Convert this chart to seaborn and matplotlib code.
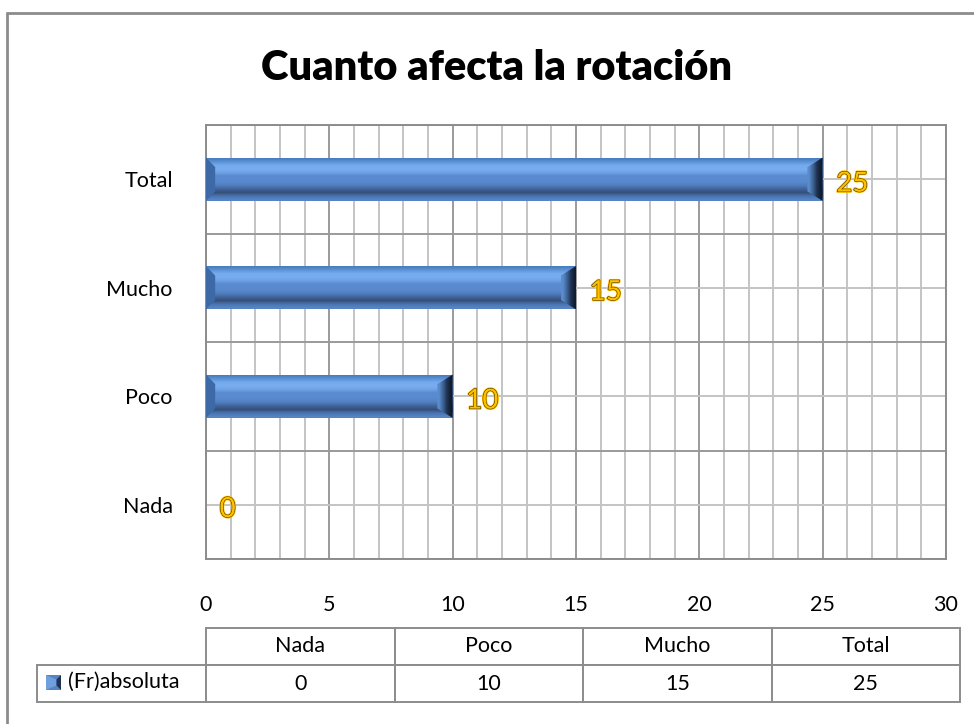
import numpy as np
import pandas as pd
import matplotlib
matplotlib.use('Agg')
import matplotlib.pyplot as plt
import matplotlib.patheffects as pe
from matplotlib.patches import Polygon
from matplotlib.lines import Line2D
import seaborn as sns

# data
categories = ['Nada', 'Poco', 'Mucho', 'Total']
values = [0, 10, 15, 25]
series_name = '(Fr)absoluta'
title = 'Cuanto afecta la rotación'

df = pd.DataFrame({'cat': categories, 'val': values})

sns.set_style('white')
plt.rcParams['font.family'] = ['Lato', 'DejaVu Sans']
plt.rcParams['text.color'] = 'black'

fig = plt.figure(figsize=(9.74, 7.24), dpi=100)
W, H = 974, 724
ax = fig.add_axes([206 / W, 1 - 559 / H, 740 / W, 434 / H])

sns.barplot(data=df, x='val', y='cat', order=categories[::-1], orient='h',
            color='#4F81BD', width=0.4, linewidth=0, ax=ax, zorder=3)

ax.set_xlim(0, 30)
ax.set_ylim(3.5, -0.5)
ax.set_xticks(np.arange(0, 31, 5))
ax.set_xticks(np.arange(0, 31, 1), minor=True)
ax.set_yticks(np.arange(-0.5, 4, 1), minor=True)
ax.grid(True, which='minor', color='#c4c4c4', lw=1.4, zorder=0)
ax.grid(True, which='major', color='#c4c4c4', lw=1.4, zorder=0)
ax.xaxis.grid(True, which='major', color='#9a9a9a', lw=1.4, zorder=0)
ax.yaxis.grid(True, which='minor', color='#9a9a9a', lw=1.4, zorder=0)
ax.set_axisbelow(True)
ax.tick_params(axis='both', which='both', length=0, labelsize=15.5, colors='black')
ax.tick_params(axis='x', pad=26)
ax.tick_params(axis='y', pad=24)
ax.set_xlabel('')
ax.set_ylabel('')
for s in ax.spines.values():
    s.set_color('#8c8c8c')
    s.set_linewidth(1.4)

# beveled look on every bar
grad_colors = ['#4a7cc0', '#5e95d8', '#74aaee', '#78adef', '#6fa3e6',
               '#5b8cd2', '#5a8ad0', '#5888cc', '#4f7cbc', '#3f6398',
               '#364f78', '#4873b0', '#5583c4']
grad = np.array([matplotlib.colors.to_rgb(c) for c in grad_colors])[:, None, :]
hgrad = np.array([matplotlib.colors.to_rgb(c) for c in ['#5a8ccc', '#3e6495', '#1f3352', '#101c2e']])[None, :, :]
bev = 0.62
for p in list(ax.patches):
    x0, y0 = p.get_x(), p.get_y()
    w, h = p.get_width(), p.get_height()
    if w <= 0:
        continue
    im = ax.imshow(grad, extent=(x0, x0 + w, y0 + h, y0), aspect='auto',
                   interpolation='bilinear', zorder=3.5)
    im.set_clip_path(p)
    ih = h * 0.22
    left = Polygon([[x0, y0], [x0 + bev * 0.6, y0 + ih], [x0 + bev * 0.6, y0 + h - ih], [x0, y0 + h]],
                   closed=True, facecolor='#3d6aa6', edgecolor='none', zorder=4)
    ax.add_patch(left)
    xr = x0 + w
    right = Polygon([[xr, y0], [xr - bev, y0 + ih], [xr - bev, y0 + h - ih], [xr, y0 + h]],
                    closed=True, facecolor='none', edgecolor='none', zorder=4)
    ax.add_patch(right)
    im2 = ax.imshow(hgrad, extent=(xr - bev, xr, y0 + h, y0), aspect='auto',
                    interpolation='bilinear', zorder=4.2)
    im2.set_clip_path(right)

# data labels
order = categories[::-1]
for i, c in enumerate(order):
    v = values[categories.index(c)]
    t = ax.text(v + 0.55, i + 0.04, str(v), ha='left', va='center', fontsize=20,
                color='#FFC000', zorder=6)
    t.set_path_effects([pe.Stroke(linewidth=1.8, foreground='#FFC000'),
                        pe.Stroke(linewidth=0.7, foreground='#3a3000'),
                        pe.Normal()])

# title
fig.text(497 / W, 1 - 80 / H, title, ha='center', va='baseline',
         fontsize=30, fontweight='heavy', color='black')

# data table
cell_text = [[''] + categories, [series_name] + [str(v) for v in values]]
col_w = [169] + [188.5] * 4
tab = ax.table(cellText=cell_text, cellLoc='center', colWidths=[c / sum(col_w) for c in col_w],
               bbox=[(37 - 206) / 740, (559 - 702) / 434, (960 - 37) / 740, (702 - 628) / 434])
tab.auto_set_font_size(False)
tab.set_fontsize(15.5)
for (r, c), cell in tab.get_celld().items():
    cell.set_edgecolor('#8c8c8c')
    cell.set_linewidth(1.4)
    if r == 0 and c == 0:
        cell.visible_edges = ''
    if r == 1 and c == 0:
        cell.get_text().set_text('')
fig.text(68 / W, 1 - 682 / H, series_name, ha='left', va='center', fontsize=15.5)
kx, ky, ks = 46, 675, 15
key_ax = fig.add_axes([kx / W, 1 - (ky + ks) / H, ks / W, ks / H])
key_ax.axis('off')
key_ax.add_patch(Polygon([[0, 0], [1, 0], [1, 1], [0, 1]], facecolor='#5583c4', lw=0))
key_ax.add_patch(Polygon([[0, 0], [0.7, 0.3], [0.7, 0.7], [0, 1]], facecolor='#6f9fdc', lw=0))
key_ax.add_patch(Polygon([[1, 0], [0.7, 0.3], [0.7, 0.7], [1, 1]], facecolor='#1f3352', lw=0))
key_ax.set_xlim(0, 1)
key_ax.set_ylim(0, 1)

# chart area frame
fig.add_artist(Line2D([7 / W, 7 / W], [0, 1 - 13 / H], color='#8c8c8c', lw=2, transform=fig.transFigure))
fig.add_artist(Line2D([7 / W, 1], [1 - 13 / H, 1 - 13 / H], color='#8c8c8c', lw=2, transform=fig.transFigure))

fig.savefig('out.png', dpi=100)
